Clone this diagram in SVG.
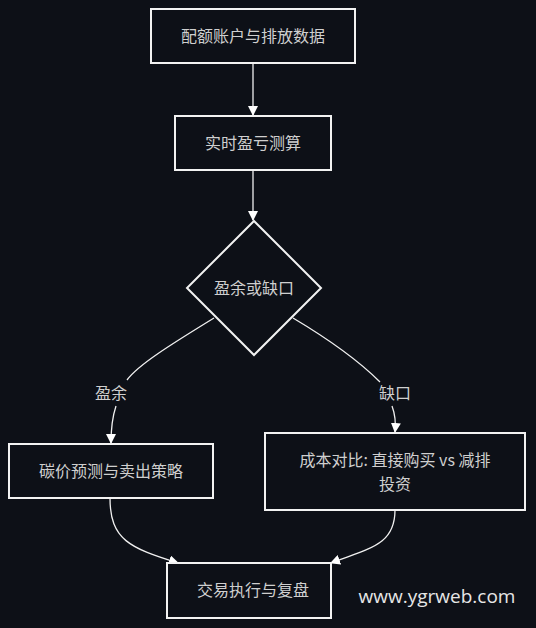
<svg xmlns="http://www.w3.org/2000/svg" width="536" height="628" viewBox="0 0 536 628">
<defs>
<marker id="ah" markerWidth="10" markerHeight="10" refX="9" refY="5" orient="auto" markerUnits="userSpaceOnUse">
<path d="M0,0 L10,5 L0,10 Z" fill="#ffffff"/>
</marker>
<style>
.node rect,.node polygon{fill:#0d1017;stroke:#f2f2f2;stroke-width:2}
.t{font-family:"Noto Sans CJK SC","Liberation Sans",sans-serif;font-size:16px;fill:#cfcfcf;text-anchor:middle;dominant-baseline:central}
.e{fill:none;stroke:#f0f0f0;stroke-width:1.3}
.lbl{font-family:"Noto Sans CJK SC","Liberation Sans",sans-serif;font-size:16px;fill:#cfcfcf;text-anchor:middle;dominant-baseline:central}
</style>
</defs>
<rect width="536" height="628" fill="#0d1017"/>
<g id="connectors">
<path class="e" d="M253,63 L253,115" marker-end="url(#ah)"/>
<path class="e" d="M253,170 L253,220" marker-end="url(#ah)"/>
<path class="e" d="M214,318 C170,345 138,365 127,380"/>
<path class="e" d="M116,406 C112,418 111,428 111,443" marker-end="url(#ah)"/>
<path class="e" d="M293,318 C330,340 360,362 380,382"/>
<path class="e" d="M392,406 C395,414 396,422 395,432" marker-end="url(#ah)"/>
<path class="e" d="M110,498 C110,540 130,548 178,563" marker-end="url(#ah)"/>
<path class="e" d="M395,510 C395,545 370,548 331,563" marker-end="url(#ah)"/>
<text class="lbl" x="111" y="392">盈余</text>
<text class="lbl" x="395" y="392">缺口</text>
</g>
<g id="n1" class="node"><rect x="151" y="9" width="204" height="54"/><text class="t" x="253" y="35">配额账户与排放数据</text></g>
<g id="n2" class="node"><rect x="175" y="116" width="156" height="54"/><text class="t" x="253" y="142">实时盈亏测算</text></g>
<g id="n3" class="node"><polygon points="254,221 321,288 254,355 187,288"/><text class="t" x="254" y="287">盈余或缺口</text></g>
<g id="n4" class="node"><rect x="9" y="444" width="204" height="54"/><text class="t" x="111" y="470">碳价预测与卖出策略</text></g>
<g id="n5" class="node"><rect x="265" y="433" width="260" height="77"/><text class="t" x="395" y="459">成本对比: 直接购买 vs 减排</text><text class="t" x="395" y="483">投资</text></g>
<g id="n6" class="node"><rect x="167" y="563" width="164" height="55"/><text class="t" x="253" y="589">交易执行与复盘</text></g>
<text x="437" y="596" font-family="Open Sans, Liberation Sans, sans-serif" font-size="19" fill="#e6e6e6" text-anchor="middle" dominant-baseline="central">www.ygrweb.com</text>
</svg>
